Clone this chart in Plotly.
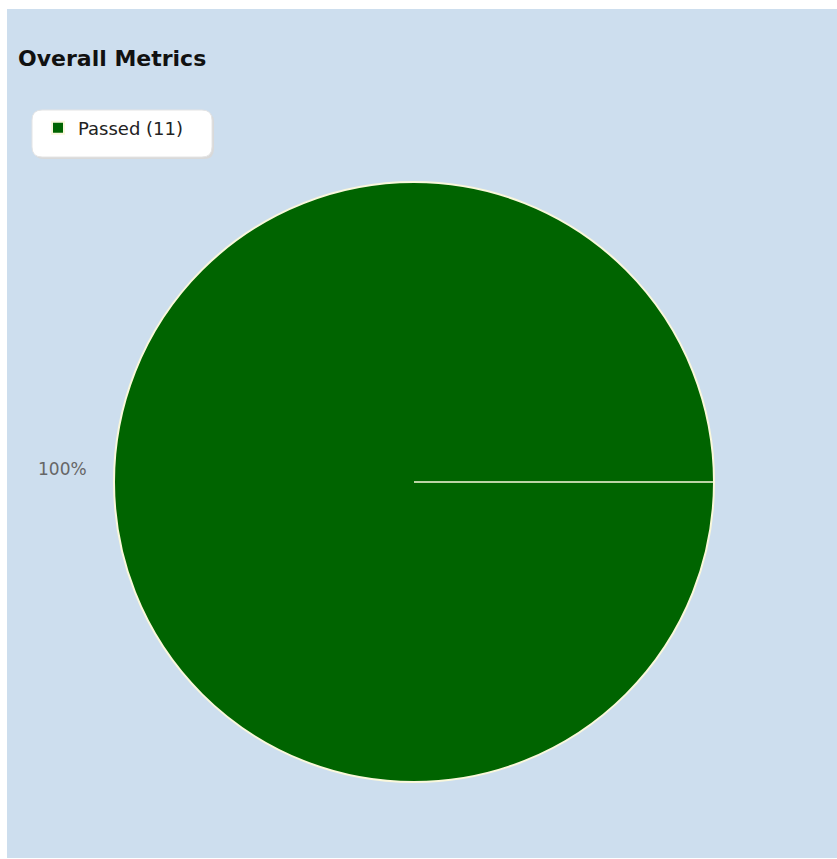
import plotly.graph_objects as go

labels = ["Passed"]
values = [11]
colors = ["#006400"]
title_text = "Overall Metrics"

W, H = 830, 849
ML, MT, PW, PH = 107, 173, 600, 600
MR = W - ML - PW
MB = H - MT - PH

def px(x):
    return (x - ML) / PW

def py(y):
    return 1 - (y - MT) / PH

BG = "#CDDEEE"
EDGE = "#FAF8DC"

total = sum(values)
pct_labels = [f"{round(100 * v / total)}%" for v in values]

fig = go.Figure()
fig.add_trace(go.Pie(
    labels=[f"{l} ({v})" for l, v in zip(labels, values)],
    values=values,
    marker=dict(colors=colors, line=dict(color=EDGE, width=2)),
    sort=False,
    direction="counterclockwise",
    rotation=90,
    textposition="none",
    domain=dict(x=[0, 1], y=[0, 1]),
    hoverinfo="label+percent",
    showlegend=True,
))

# outside percentage label (left of the single slice)
fig.add_annotation(text=pct_labels[0], xref="paper", yref="paper",
                   x=px(56), y=py(460), xanchor="center", yanchor="middle",
                   showarrow=False,
                   font=dict(family="DejaVu Sans", size=17, color="#666666"))

# radial seam of the single slice (center to its start edge)
fig.add_shape(type="line", xref="paper", yref="paper",
              x0=0.5, y0=0.5, x1=1.0, y1=0.5,
              line=dict(color=EDGE, width=1.5), layer="above")

# rounded legend card with soft shadow
def rounded(x0p, y0p, x1p, y1p, r=10):
    x0, y0, x1, y1 = px(x0p), py(y0p), px(x1p), py(y1p)
    rx, ry = r / PW, r / PH
    return (f"M {x0+rx},{y0} L {x1-rx},{y0} Q {x1},{y0} {x1},{y0-ry} "
            f"L {x1},{y1+ry} Q {x1},{y1} {x1-rx},{y1} L {x0+rx},{y1} "
            f"Q {x0},{y1} {x0},{y1+ry} L {x0},{y0-ry} Q {x0},{y0} {x0+rx},{y0} Z")

fig.add_shape(type="path", xref="paper", yref="paper", path=rounded(27, 103, 207, 150),
              fillcolor="#D9D9D9", line=dict(width=0), layer="below")
fig.add_shape(type="path", xref="paper", yref="paper", path=rounded(25, 101, 205, 148),
              fillcolor="#FFFFFF", line=dict(color="#E4E4E4", width=1), layer="below")

fig.update_layout(
    width=W, height=H,
    margin=dict(l=ML, r=MR, t=MT, b=MB),
    paper_bgcolor=BG,
    plot_bgcolor=BG,
    title=dict(text=f"<b>{title_text}</b>", x=11 / W, xref="container", xanchor="left",
               y=1 - 49 / H, yref="container", yanchor="middle",
               font=dict(family="DejaVu Sans", size=22, color="#111111")),
    legend=dict(x=px(31), y=py(119), xanchor="left", yanchor="middle",
                bgcolor="rgba(0,0,0,0)", borderwidth=0,
                font=dict(family="DejaVu Sans", size=18, color="#222222")),
)

fig.write_html("out.html",
               post_script="document.body.style.margin='9px 0 0 7px';document.body.style.overflow='hidden';")
